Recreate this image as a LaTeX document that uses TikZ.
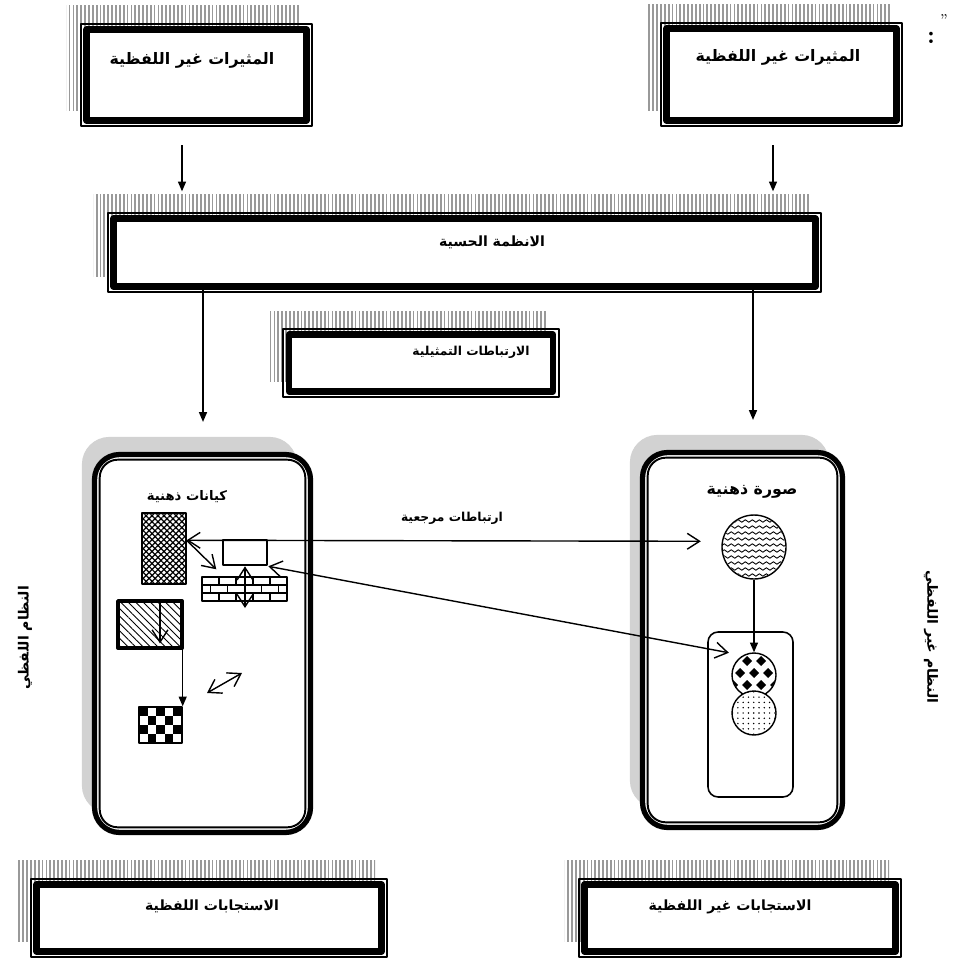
\documentclass[tikz,border=0pt]{standalone}
\usepackage{fontspec}
\newfontfamily\arabicfont[Script=Arabic]{DejaVu Sans}
\TeXXeTstate=1
\usetikzlibrary{arrows.meta,patterns,patterns.meta,decorations.pathmorphing,backgrounds}

\tikzset{
  box/.style={draw, line width=3.6pt, fill=white, inner sep=0pt},
  panel/.style={draw, line width=3pt, fill=white, rounded corners=0.5cm, inner sep=0pt},
  boxshade/.style={pattern={Lines[angle=90,distance=2.2pt,line width=1pt]}, pattern color=gray!80},
  panelshade/.style={fill=gray!35, rounded corners=0.55cm},
  ttl/.style={font=\arabicfont\bfseries\fontsize{#1}{13}\selectfont},
  ttl/.default=10,
  fwd/.style={-{Triangle[length=5.5pt,width=4.5pt]}},
  item/.style={draw, line width=0.8pt, inner sep=0pt},
}

\begin{document}
\begin{tikzpicture}[x=0.02cm, y=-0.02cm, >={Straight Barb[length=7pt,width=9pt]}, line width=0.8pt, line join=round]
\useasboundingbox (0,0) rectangle (961,966);

% boxes
\node[box, minimum width=4.4cm, minimum height=1.82cm] (stimL) at (196.5,75) {};
\node[box, minimum width=4.6cm, minimum height=1.84cm] (stimR) at (781.5,74.5) {};
\node[box, minimum width=14.04cm, minimum height=1.36cm] (sense) at (464.5,252.5) {};
\node[box, minimum width=5.28cm, minimum height=1.14cm] (rep) at (421,363) {};
\node[box, minimum width=6.9cm, minimum height=1.34cm] (respL) at (209,918) {};
\node[box, minimum width=6.22cm, minimum height=1.34cm] (respR) at (740,918) {};

\node[panel, minimum width=4.32cm, minimum height=7.56cm] (panL) at (202.5,643.5) {};
\node[panel, minimum width=4.0cm, minimum height=7.5cm] (panR) at (742.5,640) {};

\foreach \n in {stimL,stimR,sense,rep,respL,respR}
  \draw[line width=1.1pt] ([shift={(-2.5,2.5)}]\n.south west) rectangle ([shift={(2.5,-2.5)}]\n.north east);
\foreach \n in {panL,panR}
  \draw[line width=1.1pt, rounded corners=0.36cm] ([shift={(7.8,-7.8)}]\n.south west) rectangle ([shift={(-7.8,7.8)}]\n.north east);

\begin{scope}[on background layer]
  \foreach \n in {stimL,stimR,sense,rep,respL,respR}
    \fill[boxshade] ([shift={(-16.5,-13.5)}]\n.south west) rectangle ([shift={(-9.5,-20.5)}]\n.north east);
  \foreach \n in {panL,panR}
    \fill[panelshade] ([shift={(-10,-22)}]\n.south west) rectangle ([shift={(-16,-15)}]\n.north east);
\end{scope}

% texts
\node[ttl=9] (tStimL) at (192,60) {\beginR المثيرات غير اللفظية\endR};
\node[ttl=9] (tStimR) at (778,57) {\beginR المثيرات غير اللفظية\endR};
\node[ttl=8] (tSense) at (492,242) {\beginR الانظمة الحسية\endR};
\node[ttl=7] (tRep) at (471,352) {\beginR الارتباطات التمثيلية\endR};
\node[ttl=8] (tRespL) at (212,906) {\beginR الاستجابات اللفظية\endR};
\node[ttl=8] (tRespR) at (730,907) {\beginR الاستجابات غير اللفظية\endR};
\node[ttl=7.5] (tEnt) at (187,497) {\beginR كيانات ذهنية\endR};
\node[ttl=9] (tImg) at (752,492) {\beginR صورة ذهنية\endR};
\node[ttl=7] (tRef) at (452,518) {\beginR ارتباطات مرجعية\endR};
\node[ttl=8, rotate=90] (sysL) at (25,638) {\beginR النظام اللفظي\endR};
\node[ttl=8, rotate=-90] (sysR) at (931,637) {\beginR النظام غير اللفظي\endR};
\node[font=\Large\bfseries] (col) at (931,38) {:};
\node[font=\small] (qt) at (944,20) {"};

% arrows between boxes
\coordinate (aL) at (182,0);
\coordinate (aR) at (773,0);
\coordinate (bL) at (203,0);
\coordinate (bR) at (753,0);
\draw[fwd, shorten <=0.43cm, shorten >=0.48cm] (aL |- stimL.south) -- (aL |- sense.north);
\draw[fwd, shorten <=0.43cm, shorten >=0.48cm] (aR |- stimR.south) -- (aR |- sense.north);
\draw[fwd, shorten >=0.6cm] (bL |- sense.south) -- (bL |- panL.north);
\draw[fwd, shorten >=0.6cm] (bR |- sense.south) -- (bR |- panR.north);

% left panel
\node[item, minimum width=0.88cm, minimum height=1.42cm, pattern={Hatch[angle=45,distance=2.4pt,line width=0.7pt]}] (ents) at (164,548.5) {};
\node[item, line width=1.5pt, fill=white, minimum width=0.88cm, minimum height=0.5cm] (tag) at (245,552.5) {};
\node[item, fill=white, minimum width=1.7cm, minimum height=0.48cm] (brick) at (244.5,589) {};
\foreach \y/\xs in {577/{219,236,253,270},585/{210.5,227.5,244.5,261.5,278.5},593/{219,236,253,270}} {
  \foreach \x in \xs { \draw[line width=0.6pt] (\x,\y) -- (\x,{\y+8}); }
}
\foreach \y in {585,593} \draw[line width=0.6pt] (202,\y) -- (287,\y);
\node[item, line width=2.2pt, minimum width=1.28cm, minimum height=0.94cm, pattern={Lines[angle=-45,distance=3pt,line width=0.5pt]}] (hat) at (150,624.5) {};
\node[item, minimum width=0.86cm, minimum height=0.72cm] (chk) at (160.5,725) {};
\foreach \i in {0,...,4} \foreach \j in {0,...,3} {
  \ifodd\numexpr\i+\j\relax\else \fill ({139+8.6*\i},{707+9*\j}) rectangle ++(8.6,9); \fi
}
\coordinate (d1) at (207,693);
\coordinate (d2) at (242,673);
\coordinate (bk) at (245,608);

% right panel
\node[draw, line width=0.9pt, rounded corners=0.2cm, minimum width=1.7cm, minimum height=3.3cm, inner sep=0pt] (grp) at (750.5,714.5) {};
\node[item, circle, fill=white, minimum size=1.28cm] (wavy) at (754,547) {};
\begin{scope}
  \clip (wavy.center) circle (0.62cm);
  \foreach \y in {521,527,...,575}
    \draw[line width=0.5pt, decorate, decoration={snake, amplitude=0.7pt, segment length=4pt}] (715,\y) -- (795,\y);
\end{scope}
\node[item, circle, fill=white, minimum size=0.88cm] (dia) at (754,675) {};
\begin{scope}
  \clip (dia.center) circle (0.43cm);
  \foreach \x/\y in {747/661,761/661,733/661,775/661,740/673,754/673,768/673,747/685,761/685,733/685,775/685}
    \fill ({\x-5},\y) -- (\x,{\y-5}) -- ({\x+5},\y) -- (\x,{\y+5}) -- cycle;
\end{scope}
\node[item, circle, preaction={fill=white}, pattern={Dots[distance=3pt,radius=0.45pt]}, minimum size=0.88cm] (dot) at (754,713) {};

% links
\draw[<->, shorten >=0.42cm] (ents.20) -- (wavy.170);
\draw[<->, shorten >=0.28cm] (tag.south east) -- (dia.120);
\draw[->] (ents.20) -- ([shift={(15,-7)}]brick.north west);
\draw[<->] (tag.south) -- (bk);
\draw[->] ([shift={(10,0)}]hat.north) -- ([shift={(10,-5)}]hat.south);
\draw[fwd] (hat.south -| chk.north east) -- (chk.north east);
\draw[<->] (d1) -- (d2);
\draw[fwd] (wavy.south) -- (dia.north);
\end{tikzpicture}
\end{document}
